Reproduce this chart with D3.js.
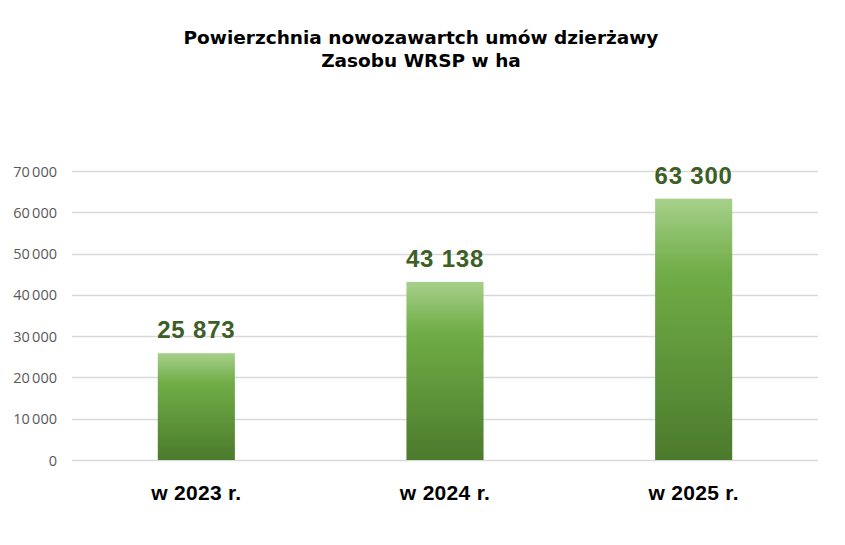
<!DOCTYPE html>
<html><head><meta charset="utf-8">
<script src="https://cdn.jsdelivr.net/npm/d3@7"></script>
<style>body{margin:0;background:#fff}</style>
</head><body>
<svg id="c" width="845" height="545"></svg>
<script>
const categories = ["w 2023 r.", "w 2024 r.", "w 2025 r."];
const values = [25873, 43138, 63300];
const valueLabels = ["25 873", "43 138", "63 300"];
const tickValues = [0, 10000, 20000, 30000, 40000, 50000, 60000, 70000];
const titleLines = ["Powierzchnia nowozawartch umów dzierżawy", "Zasobu WRSP w ha"];

const svg = d3.select("#c");
const m = {l: 72, r: 818, t: 171, b: 460};
const x = d3.scaleBand().domain(categories).range([m.l, m.r]).paddingInner(0.69).paddingOuter(0.345);
const y = d3.scaleLinear().domain([0, 70000]).range([m.b, m.t]);

const defs = svg.append("defs");
const g = defs.append("linearGradient").attr("id","gr").attr("x1",0).attr("y1",0).attr("x2",0).attr("y2",1);
g.append("stop").attr("offset","0%").attr("stop-color","#a6d08b");
g.append("stop").attr("offset","28%").attr("stop-color","#70ad47");
g.append("stop").attr("offset","100%").attr("stop-color","#4b7a2c");

svg.append("g").selectAll("text").data(titleLines).join("text")
  .attr("x", 421).attr("y", (d,i)=>44+i*23).attr("text-anchor","middle")
  .attr("font-family","DejaVu Sans, Verdana, sans-serif").attr("font-weight","bold")
  .attr("font-size", 18.5).attr("fill","#000").text(d=>d);

svg.append("g").selectAll("line").data(tickValues).join("line")
  .attr("x1", m.l).attr("x2", m.r).attr("y1", d=>Math.round(y(d))+0.5).attr("y2", d=>Math.round(y(d))+0.5)
  .attr("stroke","#d9d9d9").attr("stroke-width",1.3);

const ax = svg.append("g").call(d3.axisLeft(y).tickValues(tickValues).tickSize(0).tickPadding(0)
  .tickFormat(d => d3.format(",")(d).replace(/,/g, "\u2009")));
ax.select(".domain").remove();
ax.selectAll(".tick line").remove();
ax.selectAll(".tick text").attr("x", 57).attr("dy","0.35em")
  .attr("font-family","Open Sans, Liberation Sans, sans-serif").attr("font-size",14.5).attr("fill","#595959");

svg.append("g").selectAll("rect").data(values).join("rect")
  .attr("x",(d,i)=>x(categories[i])).attr("width",x.bandwidth())
  .attr("y",d=>y(d)).attr("height",d=>y(0)-y(d)).attr("fill","url(#gr)");

svg.append("g").selectAll("text").data(values).join("text")
  .attr("x",(d,i)=>x(categories[i])+x.bandwidth()/2).attr("y",d=>y(d)-15)
  .attr("text-anchor","middle").attr("font-family","Liberation Sans, Arial, sans-serif")
  .attr("font-weight","bold").attr("font-size",24).attr("letter-spacing",0.8).attr("fill","#3d5f26")
  .text((d,i)=>valueLabels[i]);

svg.append("g").selectAll("text").data(categories).join("text")
  .attr("x",d=>x(d)+x.bandwidth()/2).attr("y",500).attr("text-anchor","middle")
  .attr("font-family","Liberation Sans, Arial, sans-serif").attr("font-weight","bold")
  .attr("font-size",21).attr("letter-spacing",0.3).attr("fill","#000").text(d=>d);
</script>
</body></html>
